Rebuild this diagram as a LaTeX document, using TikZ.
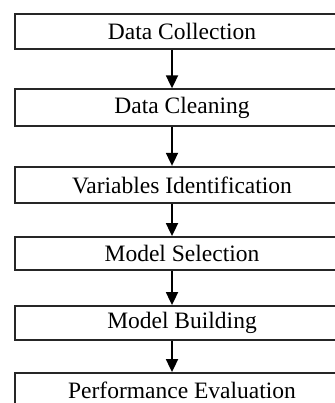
\documentclass[tikz,border=0pt]{standalone}
\usepackage{fontspec}
\setmainfont{Liberation Serif}
\usetikzlibrary{arrows.meta}
\begin{document}
\begin{tikzpicture}[x=1pt,y=-1pt,
  stepbox/.style={draw=black!85, line width=1.8pt, minimum width=333.5pt, minimum height=35pt, inner sep=0pt, font=\fontsize{23.5}{27}\selectfont},
  arr/.style={line width=1.8pt, -{Triangle[width=12pt,length=13pt]}}]
\useasboundingbox (0,0) rectangle (334,403);
\node[stepbox] (a) at (182,31.5) {Data Collection};
\node[stepbox, minimum height=36.5pt] (b) at (182,107.5) {Data Cleaning};
\node[stepbox, minimum height=36.5pt] (c) at (182,185) {Variables Identification};
\node[stepbox, minimum height=33pt] (d) at (182,253.5) {Model Selection};
\node[stepbox, minimum height=34pt] (e) at (182,323) {Model Building};
\node[stepbox] (f) at (182,390.5) {Performance Evaluation};
\coordinate (ax) at (172,0);
\draw[arr] (a.south -| ax) -- (b.north -| ax);
\draw[arr] (b.south -| ax) -- (c.north -| ax);
\draw[arr] (c.south -| ax) -- (d.north -| ax);
\draw[arr] (d.south -| ax) -- (e.north -| ax);
\draw[arr] (e.south -| ax) -- (f.north -| ax);
\end{tikzpicture}
\end{document}
